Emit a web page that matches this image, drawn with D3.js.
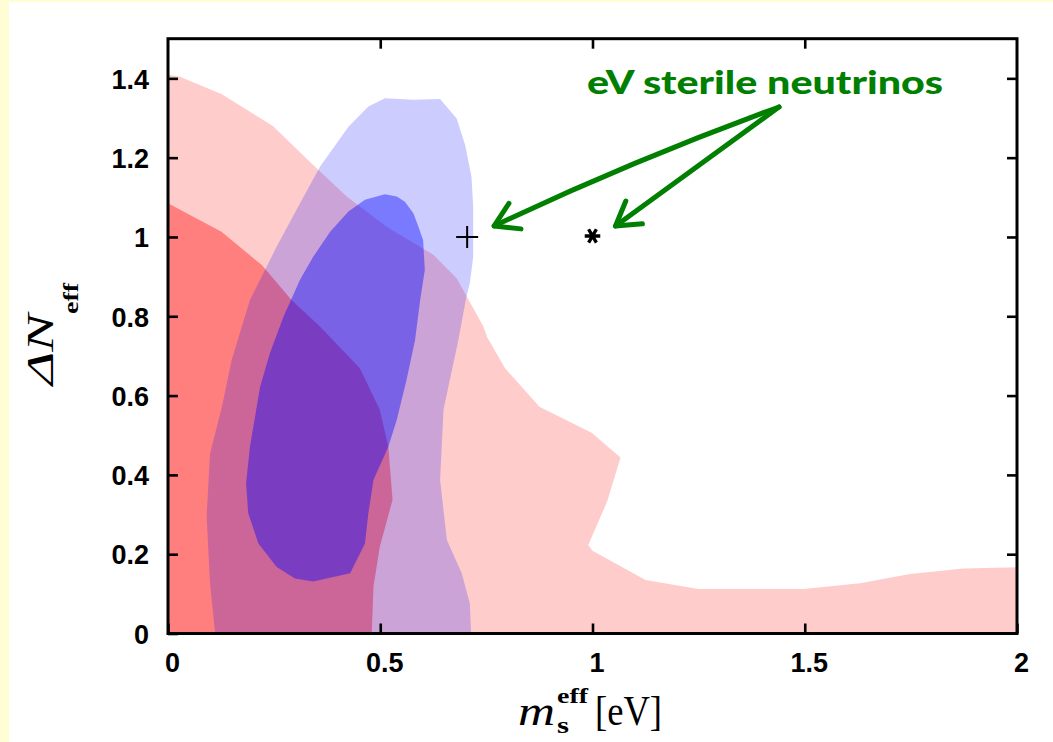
<!DOCTYPE html>
<html>
<head>
<meta charset="utf-8">
<script src="https://cdn.jsdelivr.net/npm/d3@7"></script>
<style>
  html, body { margin: 0; padding: 0; background: #fff; }
  svg { display: block; }
</style>
</head>
<body>
<svg id="chart" width="1053" height="742"></svg>
<script>
// ---------------- DATA ----------------
// x: m_s^eff [eV], y: ΔN_eff
const xTicks = [0, 0.5, 1, 1.5, 2];
const yTicks = [0, 0.2, 0.4, 0.6, 0.8, 1.0, 1.2, 1.4];

// Red constraint, outer (light) contour
const redOuter = [
  [0, 0], [0, 1.409], [0.028, 1.404], [0.127, 1.36], [0.247, 1.28], [0.350, 1.173],
  [0.421, 1.102], [0.515, 1.026], [0.625, 0.955], [0.680, 0.896], [0.743, 0.774],
  [0.752, 0.747], [0.794, 0.669], [0.875, 0.572], [0.998, 0.506], [1.066, 0.444],
  [1.035, 0.334], [0.990, 0.223], [1.000, 0.209], [1.125, 0.135], [1.250, 0.112],
  [1.497, 0.112], [1.630, 0.127], [1.748, 0.150], [1.873, 0.164], [2.0, 0.167], [2.0, 0]
];
// Red inner (dark) contour
const redInner = [
  [0, 0], [0, 1.085], [0.126, 1.013], [0.221, 0.929], [0.291, 0.841], [0.358, 0.774],
  [0.452, 0.669], [0.499, 0.564], [0.519, 0.471], [0.529, 0.337], [0.499, 0.219],
  [0.484, 0.118], [0.480, 0]
];
// Blue outer (light) contour
const blueOuter = [
  [0.111, 0], [0.099, 0.127], [0.091, 0.295], [0.099, 0.454], [0.127, 0.572],
  [0.150, 0.690], [0.176, 0.782], [0.193, 0.841], [0.217, 0.892], [0.256, 0.976],
  [0.311, 1.085], [0.358, 1.177], [0.425, 1.278], [0.472, 1.329], [0.511, 1.350],
  [0.578, 1.346], [0.641, 1.348], [0.680, 1.299], [0.700, 1.232], [0.715, 1.152],
  [0.719, 1.076], [0.719, 0.950], [0.711, 0.883], [0.703, 0.849], [0.684, 0.740],
  [0.649, 0.564], [0.641, 0.387], [0.657, 0.236], [0.692, 0.152], [0.711, 0.076], [0.714, 0]
];
// Blue inner (dark) contour
const blueInner = [
  [0.464, 1.094], [0.511, 1.108], [0.539, 1.102], [0.558, 1.089], [0.578, 1.060],
  [0.590, 1.026], [0.601, 0.992], [0.605, 0.917], [0.594, 0.841], [0.582, 0.740],
  [0.562, 0.640], [0.539, 0.539], [0.519, 0.471], [0.484, 0.387], [0.472, 0.303],
  [0.464, 0.227], [0.429, 0.152], [0.342, 0.131], [0.299, 0.139], [0.256, 0.168],
  [0.213, 0.227], [0.189, 0.303], [0.184, 0.379], [0.193, 0.471], [0.217, 0.622],
  [0.240, 0.707], [0.272, 0.799], [0.311, 0.892], [0.342, 0.950], [0.382, 1.013], [0.425, 1.064]
];
// eV sterile neutrino models
const plusPoint = [0.7, 1.0];
const starPoint = [1.0, 1.0];
const annotationText = "eV sterile neutrinos";

// ---------------- LAYOUT ----------------
const svg = d3.select("#chart");
const W = 1053, H = 742;
const L = 168, R = 1017, T = 38.7, B = 633.5;

const x = d3.scaleLinear().domain([0, 2]).range([L, R]);
const y = d3.scaleLinear().domain([0, 1.5]).range([B, T]);

// background
svg.append("rect").attr("width", W).attr("height", H).attr("fill", "#ffffff");
svg.append("rect").attr("x", 0).attr("y", 0).attr("width", 9).attr("height", H).attr("fill", "#fffdd3");
svg.append("rect").attr("x", 0).attr("y", 0).attr("width", W).attr("height", 2).attr("fill", "#fffdd3");

svg.append("clipPath").attr("id", "plotclip")
  .append("rect").attr("x", L).attr("y", T).attr("width", R - L).attr("height", B - T);

const line = d3.line().x(d => x(d[0])).y(d => y(d[1])).curve(d3.curveLinearClosed);
const g = svg.append("g").attr("clip-path", "url(#plotclip)");

g.append("path").attr("d", line(redOuter)).attr("fill", "#ff0000").attr("fill-opacity", 0.2);
g.append("path").attr("d", line(redInner)).attr("fill", "#ff0000").attr("fill-opacity", 0.377);
g.append("path").attr("d", line(blueOuter)).attr("fill", "#0000ff").attr("fill-opacity", 0.2);
g.append("path").attr("d", line(blueInner)).attr("fill", "#0000ff").attr("fill-opacity", 0.4);

// ---------------- AXES ----------------
const tickLen = 10;
const fmt = d3.format("~g");
const axisBottom = d3.axisBottom(x).tickValues(xTicks).tickSize(-tickLen).tickPadding(9).tickFormat(fmt);
const axisTop = d3.axisTop(x).tickValues(xTicks.slice(1, -1)).tickSize(-tickLen).tickFormat("");
const axisLeft = d3.axisLeft(y).tickValues(yTicks).tickSize(-tickLen).tickPadding(19).tickFormat(fmt);
const axisRight = d3.axisRight(y).tickValues(yTicks.slice(1)).tickSize(-tickLen).tickFormat("");

function styleAxis(sel) {
  sel.select(".domain").remove();
  sel.selectAll(".tick line").attr("stroke", "#000").attr("stroke-width", 2.6);
  sel.selectAll(".tick text")
    .attr("font-family", "'Liberation Sans', Arial, sans-serif")
    .attr("font-weight", "bold")
    .attr("font-size", 27)
    .attr("fill", "#000");
}
const gb = svg.append("g").attr("transform", `translate(0,${B})`).call(axisBottom).call(styleAxis);
gb.selectAll(".tick text").attr("dx", 4).attr("dy", "0.71em").attr("y", 19);
svg.append("g").attr("transform", `translate(0,${T})`).call(axisTop).call(styleAxis);
const gl = svg.append("g").attr("transform", `translate(${L},0)`).call(axisLeft).call(styleAxis);
gl.selectAll(".tick text").attr("dy", "0.36em");
svg.append("g").attr("transform", `translate(${R},0)`).call(axisRight).call(styleAxis);

// frame
svg.append("rect").attr("x", L).attr("y", T).attr("width", R - L).attr("height", B - T)
  .attr("fill", "none").attr("stroke", "#000").attr("stroke-width", 3);

// ---------------- MARKERS ----------------
const px = x(plusPoint[0]) + 2, py = y(plusPoint[1]);
svg.append("path")
  .attr("d", `M${px - 11},${py}H${px + 11}M${px},${py - 11}V${py + 11}`)
  .attr("stroke", "#000").attr("stroke-width", 2).attr("fill", "none");
svg.append("path")
  .attr("transform", `translate(${x(starPoint[0])},${y(starPoint[1]) - 1}) rotate(90)`)
  .attr("d", d3.symbol(d3.symbolAsterisk, 170)())
  .attr("stroke", "#000").attr("stroke-width", 3.4).attr("fill", "none");

// ---------------- ANNOTATION ----------------
const green = "#007f00";
svg.append("text")
  .attr("x", 587).attr("y", 94)
  .attr("font-family", "Lato, 'Noto Sans', sans-serif")
  .attr("font-weight", 900)
  .attr("font-size", 32)
  .attr("textLength", 356).attr("lengthAdjust", "spacingAndGlyphs")
  .attr("fill", green)
  .text(annotationText);

const ox = 779, oy = 107;
const t1 = [x(plusPoint[0]) + 29, y(plusPoint[1]) - 11];
const t2 = [x(starPoint[0]) + 23, y(starPoint[1]) - 11];
const arrowG = svg.append("g").attr("stroke", green).attr("stroke-width", 5)
  .attr("fill", "none").attr("stroke-linecap", "round").attr("stroke-linejoin", "round");
const c1 = [(ox + t1[0]) / 2 - 4, (oy + t1[1]) / 2 - 6];
arrowG.append("path").attr("d", `M${ox},${oy} Q${c1[0]},${c1[1]} ${t1[0]},${t1[1]}`);
arrowG.append("path").attr("d", `M${ox},${oy} L${t2[0]},${t2[1]}`);
function head(tip, from) {
  const ang = Math.atan2(from[1] - tip[1], from[0] - tip[0]);
  const len = 27, spread = 0.55;
  const a1 = [tip[0] + len * Math.cos(ang + spread), tip[1] + len * Math.sin(ang + spread)];
  const a2 = [tip[0] + len * Math.cos(ang - spread), tip[1] + len * Math.sin(ang - spread)];
  return `M${a1[0]},${a1[1]} L${tip[0]},${tip[1]} L${a2[0]},${a2[1]}`;
}
arrowG.append("path").attr("d", head(t1, c1));
arrowG.append("path").attr("d", head(t2, [ox, oy]));

// ---------------- AXIS TITLES ----------------
const serif = "'Liberation Serif', 'Times New Roman', serif";
const xl = svg.append("g").attr("fill", "#000").attr("font-family", serif);
xl.append("text").attr("x", 518).attr("y", 725).attr("font-style", "italic").attr("font-size", 42)
  .attr("textLength", 37).attr("lengthAdjust", "spacingAndGlyphs").text("m");
xl.append("text").attr("x", 557).attr("y", 733).attr("font-weight", "bold").attr("font-size", 24)
  .attr("textLength", 12).attr("lengthAdjust", "spacingAndGlyphs").text("s");
xl.append("text").attr("x", 557).attr("y", 703).attr("font-weight", "bold").attr("font-size", 22)
  .attr("textLength", 31).attr("lengthAdjust", "spacingAndGlyphs").text("eff");
xl.append("text").attr("x", 595).attr("y", 725).attr("font-size", 42)
  .attr("textLength", 67).attr("lengthAdjust", "spacingAndGlyphs").text("[eV]");

const yl = svg.append("g").attr("transform", "translate(53,385) rotate(-90)")
  .attr("fill", "#000").attr("font-family", serif);
yl.append("text").attr("x", 0).attr("y", 0).attr("font-style", "italic").attr("font-size", 38)
  .attr("textLength", 71).attr("lengthAdjust", "spacingAndGlyphs").text("ΔN");
yl.append("text").attr("x", 71).attr("y", 25).attr("font-weight", "bold").attr("font-size", 22)
  .attr("textLength", 31).attr("lengthAdjust", "spacingAndGlyphs").text("eff");
</script>
</body>
</html>
